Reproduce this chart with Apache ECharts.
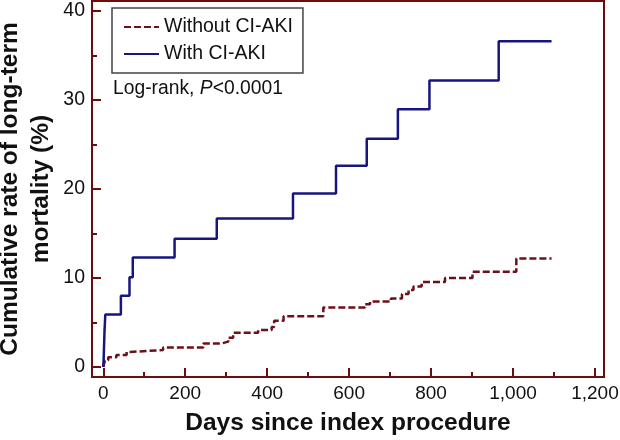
<!DOCTYPE html>
<html><head><meta charset="utf-8">
<script src="https://cdn.jsdelivr.net/npm/echarts@6/dist/echarts.min.js"></script>
<style>html,body{margin:0;padding:0;background:#fff}#c{width:620px;height:440px}</style>
</head><body><div id="c"></div>
<script>
// Data (days, cumulative mortality %)
const withAkiDays  = [0, 1, 3, 5, 43, 64, 72, 174, 277, 463, 568, 643, 719, 796, 965, 1094];
const withAkiRates = [0, 1.0, 4.0, 5.9, 8.0, 10.1, 12.3, 14.4, 16.7, 19.5, 22.6, 25.65, 28.95, 32.2, 36.6, 36.6];
const withoutAkiDays  = [0, 4, 12, 32, 57, 65, 146, 244, 289, 305, 317, 378, 411, 417, 440, 537, 639, 651, 702, 729, 745, 757, 777, 834, 901, 1008, 1094];
const withoutAkiRates = [0, 0.75, 1.1, 1.35, 1.7, 1.9, 2.2, 2.65, 2.85, 3.3, 3.85, 4.15, 4.5, 5.2, 5.7, 6.7, 7.05, 7.35, 7.7, 8.2, 8.65, 9.05, 9.55, 10.0, 10.7, 12.2, 12.2];
const xTickValues = [0, 200, 400, 600, 800, 1000, 1200];
const xTickLabels = ['0', '200', '400', '600', '800', '1,000', '1,200'];
const xMinorTicks = [100, 300, 500, 700, 900, 1100];
const yTickValues = [0, 10, 20, 30, 40];
const yTickLabels = ['0', '10', '20', '30', '40'];
const yMinorTicks = [5, 15, 25, 35];

const pair = (d, v) => d.map((x, i) => [x, v[i]]);
const FONT = '"Liberation Sans", Arial, Helvetica, sans-serif';
const AX = '#6e0b0b';
const TXT = '#111';
const XMIN = -27.5, XMAX = 1222, YMIN = -1.12, YMAX = 41.12;

const chart = echarts.init(document.getElementById('c'));
chart.setOption({
  animation: false,
  grid: { left: 92, top: 1, width: 512, height: 376, show: true, borderColor: AX, borderWidth: 2, backgroundColor: 'transparent', containLabel: false, outerBoundsMode: 'none' },
  legend: {
    orient: 'vertical', left: 112, top: 8, padding: [9, 10, 9, 11],
    itemWidth: 35, itemHeight: 20, itemGap: 7,
    borderColor: '#444', borderWidth: 1.5,
    itemStyle: { opacity: 0 },
    textStyle: { fontSize: 19.5, fontFamily: FONT, color: TXT },
    data: ['Without CI-AKI', 'With CI-AKI']
  },
  graphic: [{
    type: 'text', left: 113, top: 79,
    style: {
      text: 'Log-rank, {i|P}<0.0001', fontSize: 19.3, fontFamily: FONT, fill: TXT,
      rich: { i: { fontStyle: 'italic', fontSize: 19.3, fontFamily: FONT, color: TXT } }
    }
  }],
  xAxis: [{
    type: 'value', position: 'bottom', min: XMIN, max: XMAX,
    axisLine: { show: true, onZero: false, lineStyle: { color: AX, width: 2 } },
    splitLine: { show: false },
    axisTick: { show: true, inside: true, length: 9, customValues: xTickValues, lineStyle: { color: AX, width: 2 } },
    axisLabel: { customValues: xTickValues, formatter: v => xTickLabels[xTickValues.indexOf(v)], fontSize: 19, fontFamily: FONT, color: TXT, margin: 7 },
    name: 'Days since index procedure', nameLocation: 'middle', nameGap: 34, nameMoveOverlap: false,
    nameTextStyle: { fontSize: 24.5, fontWeight: 'bold', fontFamily: FONT, color: TXT }
  }, {
    type: 'value', position: 'bottom', min: XMIN, max: XMAX,
    axisLine: { show: false, onZero: false }, splitLine: { show: false },
    axisTick: { show: true, inside: true, length: 5, customValues: xMinorTicks, lineStyle: { color: AX, width: 2 } },
    axisLabel: { show: false }
  }],
  yAxis: [{
    type: 'value', position: 'left', min: YMIN, max: YMAX,
    axisLine: { show: true, onZero: false, lineStyle: { color: AX, width: 2 } },
    splitLine: { show: false },
    axisTick: { show: true, inside: true, length: 9, customValues: yTickValues, lineStyle: { color: AX, width: 2 } },
    axisLabel: { customValues: yTickValues, formatter: v => yTickLabels[yTickValues.indexOf(v)], fontSize: 19.5, fontFamily: FONT, color: TXT, margin: 7 },
    name: 'Cumulative rate of long-term\nmortality (%)', nameLocation: 'middle', nameGap: 35, nameMoveOverlap: false,
    nameTextStyle: { fontSize: 24.5, fontWeight: 'bold', fontFamily: FONT, color: TXT, lineHeight: 31 }
  }, {
    type: 'value', position: 'left', min: YMIN, max: YMAX,
    axisLine: { show: false, onZero: false }, splitLine: { show: false },
    axisTick: { show: true, inside: true, length: 5, customValues: yMinorTicks, lineStyle: { color: AX, width: 2 } },
    axisLabel: { show: false }
  }],
  series: [{
    name: 'Without CI-AKI', type: 'line', step: 'end', symbol: 'none',
    data: pair(withoutAkiDays, withoutAkiRates),
    lineStyle: { color: '#6e1018', width: 2.5, type: [7, 3] },
    itemStyle: { color: '#6e1018' }
  }, {
    name: 'With CI-AKI', type: 'line', step: 'end', symbol: 'none',
    data: pair(withAkiDays, withAkiRates),
    lineStyle: { color: '#16167e', width: 2.5 },
    itemStyle: { color: '#16167e' }
  }]
});
</script></body></html>
